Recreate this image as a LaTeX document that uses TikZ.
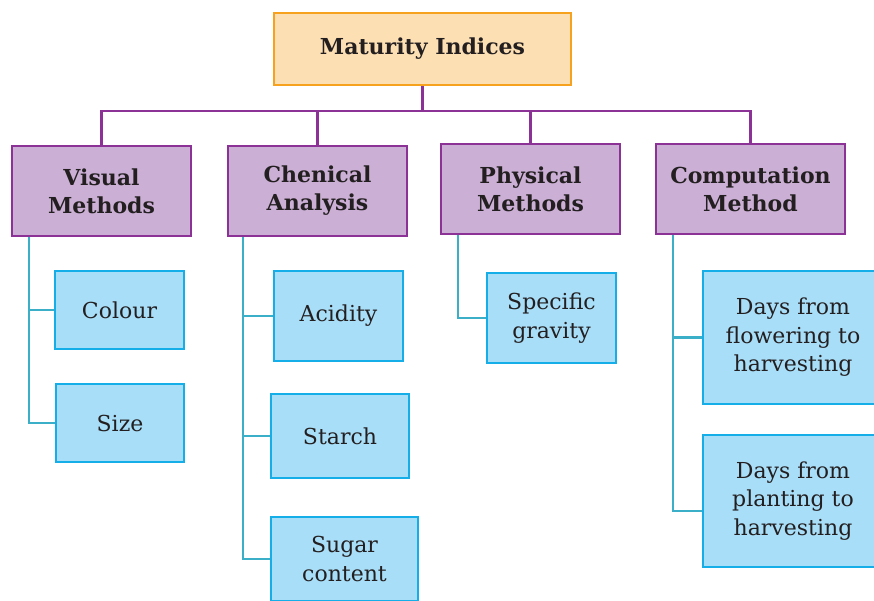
\documentclass[tikz,border=0pt]{standalone}
\usepackage{fontspec}
\setmainfont{DejaVu Serif}
\usetikzlibrary{calc}

\definecolor{headfill}{HTML}{FDDFB4}
\definecolor{headline}{HTML}{F6A21E}
\definecolor{groupfill}{HTML}{CBAFD5}
\definecolor{groupline}{HTML}{8C3196}
\definecolor{itemfill}{HTML}{A8DEF8}
\definecolor{itemline}{HTML}{16AEE9}
\definecolor{linkline}{HTML}{3BAFC8}
\definecolor{inktext}{HTML}{231F20}

\begin{document}
\begin{tikzpicture}
    [x=1pt, y=-1pt,
    head/.style={draw=headline, fill=headfill, line width=2.4pt, inner sep=0pt,
        text=inktext, font=\fontsize{22}{28}\selectfont\bfseries, align=center},
    group/.style={draw=groupline, fill=groupfill, line width=2.4pt, inner sep=0pt,
        minimum width=179pt, minimum height=90pt,
        text=inktext, font=\fontsize{22}{28}\selectfont\bfseries, align=center},
    item/.style={draw=itemline, fill=itemfill, line width=2.4pt, inner sep=0pt,
        text=inktext, font=\fontsize{22}{28.5}\selectfont, align=center},
    pline/.style={draw=groupline, line width=2.4pt},
    cline/.style={draw=linkline, line width=2.4pt}]
        \clip (0,0) rectangle (874,600);

        % top of the tree
        \node[head, minimum width=297pt, minimum height=72pt] (M) at (422.5,49) {Maturity Indices};

        \node[group] (V) at (101.5,191) {Visual\\Methods};
        \node[group] (C) at (317.5,191) {Chenical\\Analysis};
        \node[group] (P) at (530.5,189) {Physical\\Methods};
        \node[group, minimum width=189pt] (T) at (750.5,189) {Computation\\Method};

        \coordinate (B) at (422.5,111);
        \draw[pline] (M.south) -- (B);
        \draw[pline] (V.north) -- (V.north |- B) -- (T.north |- B) -- (T.north);
        \draw[pline] (C.north) -- (C.north |- B);
        \draw[pline] (P.north) -- (P.north |- B);

        % leaves
        \node[item, minimum width=129pt, minimum height=78pt] (V1) at (119.5,310) {Colour};
        \node[item, minimum width=128pt, minimum height=78pt] (V2) at (120,423) {Size};

        \node[item, minimum width=129pt, minimum height=90pt] (C1) at (338.5,316) {Acidity};
        \node[item, minimum width=138pt, minimum height=84pt] (C2) at (340,436) {Starch};
        \node[item, minimum width=147pt, minimum height=84pt] (C3) at (344.5,559) {Sugar\\content};

        \node[item, minimum width=129pt, minimum height=90pt] (P1) at (551.5,318) {Specific\\gravity};

        \node[item, minimum width=180pt, minimum height=133pt] (T1) at (793,337.5) {Days from\\flowering to\\harvesting};
        \node[item, minimum width=180pt, minimum height=132pt] (T2) at (793,501) {Days from\\planting to\\harvesting};

        \coordinate (Vs) at ([xshift=18pt]V.south west);
        \coordinate (Cs) at ([xshift=16pt]C.south west);
        \coordinate (Ps) at ([xshift=18pt]P.south west);
        \coordinate (Ts) at ([xshift=18pt]T.south west);

        \draw[cline] (Vs) |- (V2.west);
        \draw[cline] (Vs |- V1.west) -- (V1.west);

        \draw[cline] (Cs) |- (C3.west);
        \draw[cline] (Cs |- C1.west) -- (C1.west);
        \draw[cline] (Cs |- C2.west) -- (C2.west);

        \draw[cline] (Ps) |- (P1.west);

        \draw[cline] (Ts) |- ([yshift=-10pt]T2.west);
        \draw[cline] (Ts |- T1.west) -- (T1.west);
\end{tikzpicture}
\end{document}
